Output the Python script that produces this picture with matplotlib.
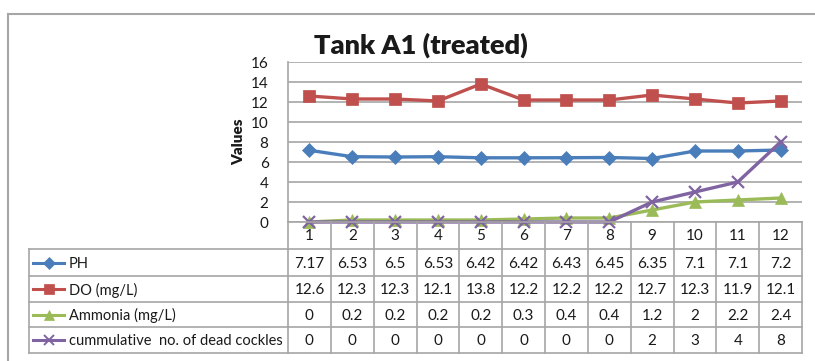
import matplotlib
matplotlib.use("Agg")
import matplotlib.pyplot as plt
from matplotlib.lines import Line2D
from matplotlib.transforms import blended_transform_factory

plt.rcParams['font.family'] = ['Lato', 'DejaVu Sans']

# Sampling days
categories = [1, 2, 3, 4, 5, 6, 7, 8, 9, 10, 11, 12]

# Water quality readings and mortality
ph = [7.17, 6.53, 6.5, 6.53, 6.42, 6.42, 6.43, 6.45, 6.35, 7.1, 7.1, 7.2]
do_mg = [12.6, 12.3, 12.3, 12.1, 13.8, 12.2, 12.2, 12.2, 12.7, 12.3, 11.9, 12.1]
ammonia = [0, 0.2, 0.2, 0.2, 0.2, 0.3, 0.4, 0.4, 1.2, 2, 2.2, 2.4]
dead_cockles = [0, 0, 0, 0, 0, 0, 0, 0, 2, 3, 4, 8]

series_names = ["PH", "DO (mg/L)", "Ammonia (mg/L)", "cummulative  no. of dead cockles"]
series_values = [ph, do_mg, ammonia, dead_cockles]
series_colors = ["#4A7EBB", "#C0504D", "#9BBB59", "#8064A2"]
series_markers = ["D", "s", "^", "x"]
series_msize = [7.5, 8.5, 8.0, 9.0]

y_ticks = [0, 2, 4, 6, 8, 10, 12, 14, 16]

W, H = 815, 361
DPI = 100
fig = plt.figure(figsize=(W / DPI, H / DPI), dpi=DPI)
fig.patch.set_facecolor("white")


def fy(py):
    """Pixel row (from top) to figure fraction."""
    return 1 - py / H


def fx(px):
    return px / W


GRID = "#a6a6a6"
TEXT = "#1a1a1a"

# Plot area
left_px, right_px, top_px, bottom_px = 288, 802, 62, 222
ax = fig.add_axes([fx(left_px), fy(bottom_px), fx(right_px - left_px), (bottom_px - top_px) / H])
ax.set_xlim(0.5, 12.5)
ax.set_ylim(0, 16)
ax.set_yticks(y_ticks)
ax.set_xticks([])
ax.grid(axis="y", color=GRID, linewidth=1.2)
ax.set_axisbelow(True)
for s in ["top", "right", "bottom"]:
    ax.spines[s].set_visible(False)
ax.spines["left"].set_color(GRID)
ax.spines["left"].set_linewidth(1.2)
ax.tick_params(axis="y", length=0, pad=14, labelsize=11, labelcolor=TEXT)
ax.set_ylabel("Values", fontsize=11, fontweight="heavy", color=TEXT, labelpad=4)

for vals, c, m, ms in zip(series_values, series_colors, series_markers, series_msize):
    ax.plot(categories, vals, color=c, linewidth=2.4, marker=m, markersize=ms,
            markeredgewidth=1.6 if m == "x" else 0.5, markeredgecolor=c,
            markerfacecolor=c, clip_on=False, zorder=3)

fig.text(fx(421), fy(45), "Tank A1 (treated)", ha="center", va="center",
         fontsize=19.5, fontweight="heavy", color=TEXT)

# Data table beneath the plot
bt = blended_transform_factory(ax.transData, fig.transFigure)
row_edges = [222, 249, 276, 302, 327, 353]
table_left = 29

# column separators
for i in range(len(categories) + 1):
    xb = 0.5 + i
    fig.add_artist(Line2D([xb, xb], [fy(row_edges[0]), fy(row_edges[-1])], transform=bt,
                          color=GRID, linewidth=1.2))
# horizontal rules
fig.add_artist(Line2D([0.5, 12.5], [fy(row_edges[0]), fy(row_edges[0])], transform=bt,
                      color=GRID, linewidth=1.2))
for r in row_edges[1:]:
    fig.add_artist(Line2D([fx(table_left), fx(left_px)], [fy(r), fy(r)],
                          color=GRID, linewidth=1.2))
    fig.add_artist(Line2D([0.5, 12.5], [fy(r), fy(r)], transform=bt,
                          color=GRID, linewidth=1.2))
fig.add_artist(Line2D([fx(table_left), fx(table_left)], [fy(row_edges[1]), fy(row_edges[-1])],
                      color=GRID, linewidth=1.2))

# category header row
hy = (row_edges[0] + row_edges[1]) / 2 + 1
for c in categories:
    fig.text(c, fy(hy), str(c), transform=bt, ha="center", va="center",
             fontsize=11, color=TEXT)

# series rows
for k, (name, vals, col, m, ms) in enumerate(zip(series_names, series_values,
                                                  series_colors, series_markers, series_msize)):
    ry = (row_edges[k + 1] + row_edges[k + 2]) / 2 + 1
    fig.add_artist(Line2D([fx(33), fx(64)], [fy(ry - 1), fy(ry - 1)], color=col,
                          linewidth=2.2))
    fig.add_artist(Line2D([fx(48.5)], [fy(ry - 1)], color=col, marker=m,
                          markersize=ms * 0.85, markerfacecolor=col, markeredgecolor=col,
                          markeredgewidth=1.4 if m == "x" else 0.5, linestyle="none"))
    fig.text(fx(69), fy(ry), name, ha="left", va="center", fontsize=10.5, color=TEXT)
    for c, v in zip(categories, vals):
        fig.text(c, fy(ry), f"{v:g}", transform=bt, ha="center", va="center",
                 fontsize=11, color=TEXT)

# chart frame
fig.add_artist(Line2D([fx(8), fx(8)], [fy(14), 0], color="#a6a6a6", linewidth=1.5))
fig.add_artist(Line2D([fx(8), 1], [fy(14), fy(14)], color="#a6a6a6", linewidth=1.5))

fig.savefig("out.png", dpi=DPI, facecolor="white")
